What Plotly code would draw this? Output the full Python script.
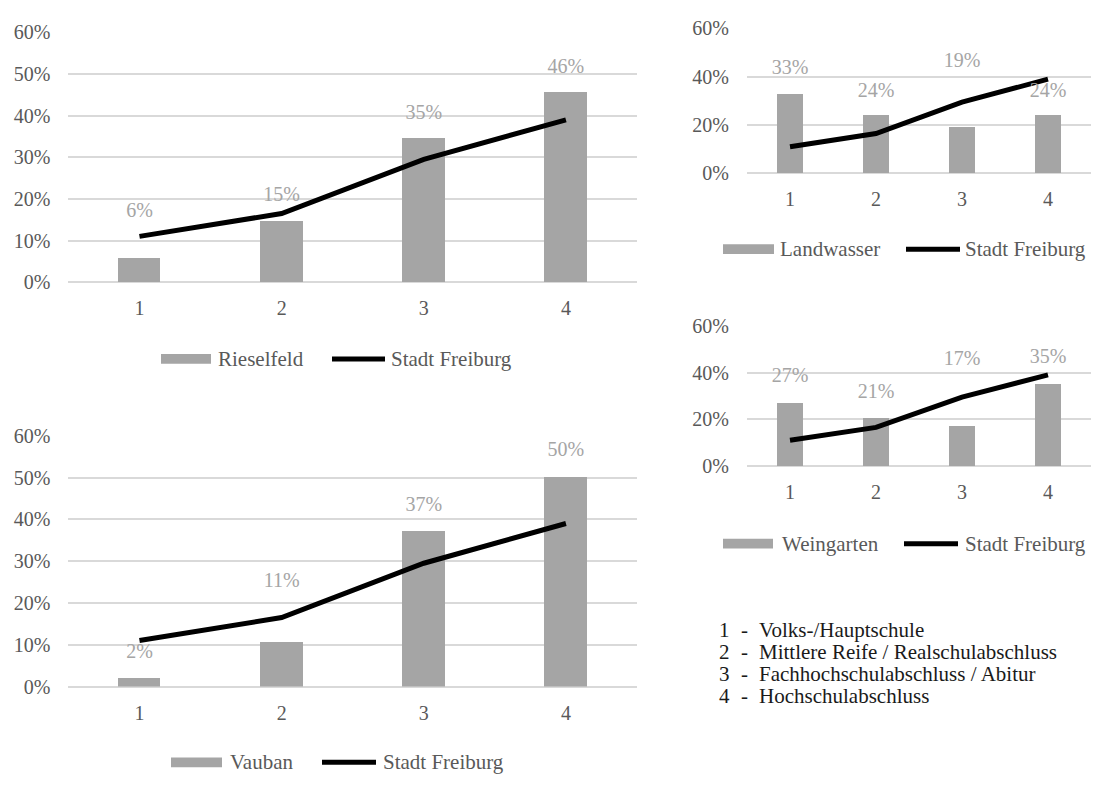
import plotly.graph_objects as go

# ---- data -------------------------------------------------------------
categories = [1, 2, 3, 4]

stadt_freiburg = [0.11, 0.165, 0.295, 0.39]
rieselfeld = [0.056, 0.146, 0.346, 0.456]
landwasser = [0.328, 0.24, 0.188, 0.24]
weingarten = [0.271, 0.206, 0.171, 0.35]
vauban = [0.02, 0.107, 0.372, 0.502]

ticks_fine = [0, 0.1, 0.2, 0.3, 0.4, 0.5, 0.6]
ticks_coarse = [0, 0.2, 0.4, 0.6]

note_numbers = ["1", "2", "3", "4"]
note_labels = [
    "Volks-/Hauptschule",
    "Mittlere Reife / Realschulabschluss",
    "Fachhochschulabschluss / Abitur",
    "Hochschulabschluss",
]

# ---- page geometry ----------------------------------------------------
W, H = 1094, 785
FONT = "Liberation Serif"
BAR_COLOR = "#a5a5a5"
GRID_COLOR = "#d9d9d9"
TICK_COLOR = "#595959"
TICK_SIZE = 20
LEGEND_SIZE = 21
NOTE_SIZE = 21


def fx(px):
    return px / W


def fy(py):
    return 1 - py / H


# each panel: series name, values, caption heights (data units),
# plot box in pixels (left, right, top, bottom), tick set, legend layout
panels = [
    dict(name="Rieselfeld", values=rieselfeld,
         caption_y=[0.169, 0.206, 0.405, 0.514],
         box=(68.4, 637, 22, 279), ticks=ticks_fine,
         legend=(358, 161, 211, 216, 332, 385, 389)),
    dict(name="Landwasser", values=landwasser,
         caption_y=[0.432, 0.336, 0.46, 0.336],
         box=(747, 1091, 18, 167), ticks=ticks_coarse,
         legend=(245, 723, 774, 778, 906, 960, 963)),
    dict(name="Vauban", values=vauban,
         caption_y=[0.081, 0.249, 0.433, 0.563],
         box=(68.4, 637, 437, 695), ticks=ticks_fine,
         legend=(773, 171, 222, 228, 322, 376, 381)),
    dict(name="Weingarten", values=weingarten,
         caption_y=[0.379, 0.3125, 0.454, 0.4625],
         box=(747, 1091, 324, 468), ticks=ticks_coarse,
         legend=(548, 723, 773, 780, 904, 958, 963)),
]

fig = go.Figure()
shapes = []
annotations = []
layout_axes = {}

for i, p in enumerate(panels, start=1):
    xa = "x" if i == 1 else f"x{i}"
    ya = "y" if i == 1 else f"y{i}"
    left, right, top, bottom = p["box"]

    fig.add_trace(go.Bar(
        x=categories, y=p["values"], xaxis=xa, yaxis=ya,
        marker=dict(color=BAR_COLOR, line=dict(width=0)),
        width=0.30, showlegend=False, hoverinfo="skip",
    ))
    fig.add_trace(go.Scatter(
        x=categories, y=stadt_freiburg, xaxis=xa, yaxis=ya,
        mode="lines", line=dict(color="black", width=5),
        showlegend=False, hoverinfo="skip",
    ))
    fig.add_trace(go.Scatter(
        x=categories, y=p["caption_y"], xaxis=xa, yaxis=ya,
        mode="text", text=[f"{v:.0%}" for v in p["values"]],
        textposition="middle center",
        textfont=dict(family=FONT, size=TICK_SIZE, color=BAR_COLOR),
        cliponaxis=False, showlegend=False, hoverinfo="skip",
    ))

    xkey = "xaxis" if i == 1 else f"xaxis{i}"
    ykey = "yaxis" if i == 1 else f"yaxis{i}"
    layout_axes[xkey] = dict(
        domain=[fx(left), fx(right)], range=[0.5, 4.5], anchor=ya,
        tickvals=categories, ticktext=[str(c) for c in categories],
        showgrid=False, zeroline=False, showline=False, ticks="",
        ticklabelstandoff=12,
        tickfont=dict(family=FONT, size=TICK_SIZE, color=TICK_COLOR),
        fixedrange=True,
    )
    layout_axes[ykey] = dict(
        domain=[fy(bottom), fy(top)], range=[0, 0.6], anchor=xa,
        tickvals=p["ticks"], tickformat=".0%",
        showgrid=True, gridcolor=GRID_COLOR, gridwidth=1.5,
        zeroline=True, zerolinecolor=GRID_COLOR, zerolinewidth=1.5,
        showline=False, ticks="", ticklabelstandoff=17,
        tickfont=dict(family=FONT, size=TICK_SIZE, color=TICK_COLOR),
        fixedrange=True,
    )

    # legend row: bar swatch + series name, line swatch + "Stadt Freiburg"
    ly, sx0, sx1, tx, lx0, lx1, tx2 = p["legend"]
    shapes.append(dict(type="rect", xref="paper", yref="paper",
                       x0=fx(sx0), x1=fx(sx1), y0=fy(ly + 5), y1=fy(ly - 5),
                       fillcolor=BAR_COLOR, line=dict(width=0)))
    shapes.append(dict(type="line", xref="paper", yref="paper",
                       x0=fx(lx0), x1=fx(lx1), y0=fy(ly), y1=fy(ly),
                       line=dict(color="black", width=5)))
    for text, xpos in ((p["name"], tx), ("Stadt Freiburg", tx2)):
        annotations.append(dict(text=text, xref="paper", yref="paper",
                                x=fx(xpos), y=fy(ly), xanchor="left",
                                yanchor="middle", showarrow=False,
                                font=dict(family=FONT, size=LEGEND_SIZE,
                                          color=TICK_COLOR)))

# explanation of the category codes
note_rows = [637, 659.5, 682, 704.5]
for num, label, row in zip(note_numbers, note_labels, note_rows):
    for text, xpos in ((num, 717), ("-", 739), (label, 757)):
        annotations.append(dict(text=text, xref="paper", yref="paper",
                                x=fx(xpos), y=fy(row), xanchor="left",
                                yanchor="middle", showarrow=False,
                                font=dict(family=FONT, size=NOTE_SIZE,
                                          color="#1a1a1a")))

fig.update_layout(
    width=W, height=H,
    margin=dict(l=0, r=0, t=0, b=0),
    paper_bgcolor="white", plot_bgcolor="white",
    bargap=0, showlegend=False,
    shapes=shapes, annotations=annotations,
    **layout_axes,
)

fig.write_html("out.html", config=dict(displayModeBar=False))
